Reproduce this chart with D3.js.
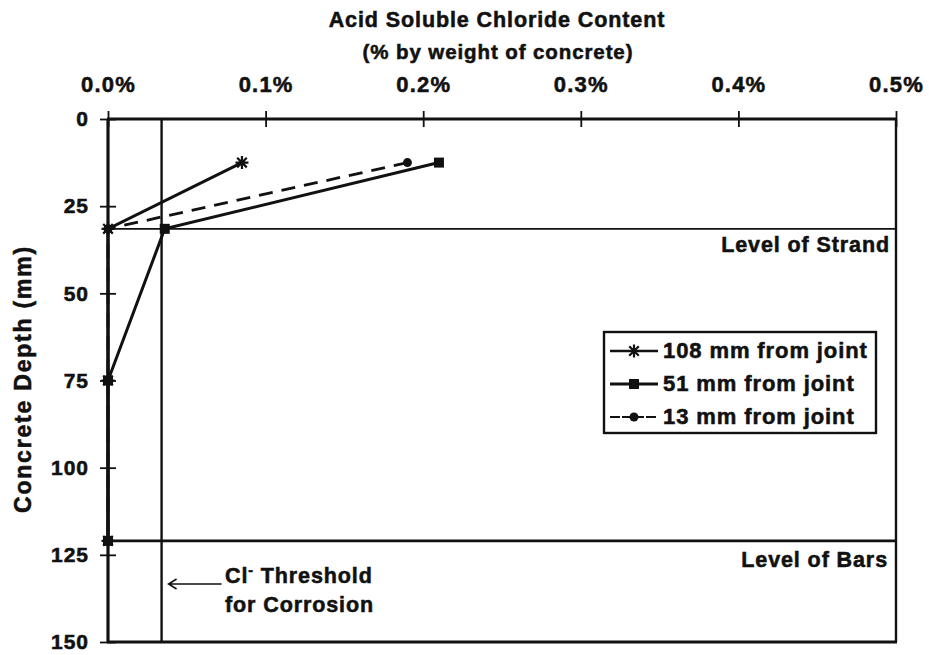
<!DOCTYPE html>
<html>
<head>
<meta charset="utf-8">
<script src="https://cdn.jsdelivr.net/npm/d3@7"></script>
<style>
  body { margin: 0; background: #fff; }
  svg text { font-family: "Liberation Sans", Arial, Helvetica, sans-serif; font-weight: bold; fill: #111; stroke: #111; stroke-width: 0.55px; letter-spacing: 0.9px; }
</style>
</head>
<body>
<svg id="chart" width="929" height="655"></svg>
<script>
// Acid-soluble chloride content vs. depth, three sampling distances from the joint
const depths = [12.5, 31.5, 75, 121];             // mm below surface
const chloride108 = [0.085, 0, 0, 0];              // % by weight, 108 mm from joint
const chloride51  = [0.21, 0.036, 0, 0];           // % by weight, 51 mm from joint
const chloride13  = [0.19, 0, 0, 0];               // % by weight, 13 mm from joint
const seriesNames = ["108 mm from joint", "51 mm from joint", "13 mm from joint"];
const xTicks = [0, 0.1, 0.2, 0.3, 0.4, 0.5];
const yTicks = [0, 25, 50, 75, 100, 125, 150];
const thresholdCl = 0.034;   // % Cl- threshold for corrosion
const strandDepth = 31.5;    // mm
const barsDepth = 121;       // mm

const svg = d3.select("#chart");
const x = d3.scaleLinear().domain([0, 0.5]).range([108, 896]);
const y = d3.scaleLinear().domain([0, 150]).range([119, 642]);

// Titles
svg.append("text").attr("x", 497).attr("y", 27).attr("text-anchor", "middle")
  .style("font-size", "21.5px").text("Acid Soluble Chloride Content");
svg.append("text").attr("x", 498).attr("y", 59).attr("text-anchor", "middle")
  .style("font-size", "20.5px").text("(% by weight of concrete)");
svg.append("text")
  .attr("transform", "translate(31,379) rotate(-90)")
  .attr("text-anchor", "middle").style("font-size", "23px").style("letter-spacing", "1.8px")
  .text("Concrete Depth (mm)");

// Top axis (percent)
const gx = svg.append("g").attr("transform", `translate(0,${y(0)})`)
  .call(d3.axisTop(x).tickValues(xTicks).tickFormat(d => d.toFixed(1) + "%").tickSize(8).tickPadding(19));
gx.select(".domain").remove();
gx.selectAll(".tick line").attr("y1", -8).attr("y2", 8).attr("stroke", "#111").attr("stroke-width", 1.8);
gx.selectAll(".tick text").style("font-size", "22px").style("letter-spacing", "1.2px")
  .style("font-family", "'Liberation Sans', Arial, sans-serif").style("font-weight", "bold");

// Left axis (depth)
const gy = svg.append("g").attr("transform", `translate(${x(0)},0)`)
  .call(d3.axisLeft(y).tickValues(yTicks).tickSize(8).tickPadding(11));
gy.select(".domain").remove();
gy.selectAll(".tick line").attr("x1", -8).attr("x2", 8).attr("stroke", "#111").attr("stroke-width", 1.8);
gy.selectAll(".tick text").style("font-size", "21px").style("letter-spacing", "1px")
  .style("font-family", "'Liberation Sans', Arial, sans-serif").style("font-weight", "bold");

// Plot frame
const frame = svg.append("g").attr("stroke", "#111").attr("fill", "none");
frame.append("line").attr("x1", x(0) - 1).attr("x2", x(0.5) + 1).attr("y1", y(0)).attr("y2", y(0)).attr("stroke-width", 3.2);
frame.append("line").attr("x1", x(0) - 1).attr("x2", x(0.5) + 1).attr("y1", y(150)).attr("y2", y(150)).attr("stroke-width", 3.2);
frame.append("line").attr("x1", x(0)).attr("x2", x(0)).attr("y1", y(0)).attr("y2", y(150)).attr("stroke-width", 3.2);
frame.append("line").attr("x1", x(0.5)).attr("x2", x(0.5)).attr("y1", y(0)).attr("y2", y(150)).attr("stroke-width", 2.4);

// Reference levels
svg.append("line").attr("x1", x(0)).attr("x2", x(0.5)).attr("y1", y(strandDepth)).attr("y2", y(strandDepth))
  .attr("stroke", "#111").attr("stroke-width", 1.8);
svg.append("line").attr("x1", x(0)).attr("x2", x(0.5)).attr("y1", y(barsDepth)).attr("y2", y(barsDepth))
  .attr("stroke", "#111").attr("stroke-width", 2.8);
svg.append("line").attr("x1", x(thresholdCl)).attr("x2", x(thresholdCl)).attr("y1", y(0)).attr("y2", y(150))
  .attr("stroke", "#111").attr("stroke-width", 2.4);

svg.append("text").attr("x", 890).attr("y", 252).attr("text-anchor", "end").style("font-size", "21.5px").text("Level of Strand");
svg.append("text").attr("x", 888).attr("y", 567).attr("text-anchor", "end").style("font-size", "21.5px").text("Level of Bars");

// Threshold annotation with arrow
const tl = svg.append("text").attr("x", 225).attr("y", 583).style("font-size", "21.5px");
tl.append("tspan").text("Cl");
tl.append("tspan").attr("dy", -8).style("font-size", "14px").text("-");
tl.append("tspan").attr("dy", 8).text(" Threshold");
svg.append("text").attr("x", 225).attr("y", 612).style("font-size", "21.5px").text("for Corrosion");
const arrowY = 584;
svg.append("path")
  .attr("d", `M${x(thresholdCl) + 60},${arrowY}H${x(thresholdCl) + 7}M${x(thresholdCl) + 15},${arrowY - 5}L${x(thresholdCl) + 7},${arrowY}L${x(thresholdCl) + 15},${arrowY + 5}`)
  .attr("stroke", "#111").attr("stroke-width", 1.6).attr("fill", "none");

// Marker drawing
function drawMarker(g, type, cx, cy) {
  if (type === "star") {
    const r = 6.5;
    g.append("path")
      .attr("d", `M${cx - r},${cy}H${cx + r}M${cx},${cy - r}V${cy + r}M${cx - 4.8},${cy - 4.8}L${cx + 4.8},${cy + 4.8}M${cx - 4.8},${cy + 4.8}L${cx + 4.8},${cy - 4.8}`)
      .attr("stroke", "#111").attr("stroke-width", 2.2);
  } else if (type === "square") {
    g.append("rect").attr("x", cx - 5).attr("y", cy - 5).attr("width", 10).attr("height", 10).attr("fill", "#111");
  } else {
    g.append("circle").attr("cx", cx).attr("cy", cy).attr("r", 4.5).attr("fill", "#111");
  }
}

const series = [
  { name: seriesNames[2], values: chloride13, marker: "circle", dash: "14,9", width: 2.8 },
  { name: seriesNames[1], values: chloride51, marker: "square", dash: null, width: 3 },
  { name: seriesNames[0], values: chloride108, marker: "star", dash: null, width: 3 }
];

const line = d3.line().x(d => x(d.v)).y(d => y(d.d));
series.forEach(s => {
  const pts = s.values.map((v, i) => ({ v, d: depths[i] }));
  const g = svg.append("g");
  g.append("path").datum(pts).attr("d", line).attr("fill", "none").attr("stroke", "#111")
    .attr("stroke-width", s.width).attr("stroke-dasharray", s.dash);
  pts.forEach(p => drawMarker(g, s.marker, x(p.v), y(p.d)));
});

// Legend
const lg = svg.append("g");
lg.append("rect").attr("x", 604).attr("y", 332).attr("width", 272).attr("height", 101)
  .attr("fill", "#fff").attr("stroke", "#111").attr("stroke-width", 2.4);
const legendItems = [
  { name: seriesNames[0], marker: "star", width: 2.6, dash: null },
  { name: seriesNames[1], marker: "square", width: 2.8, dash: null },
  { name: seriesNames[2], marker: "circle", width: 1.8, dash: "10,2" }
];
legendItems.forEach((s, i) => {
  const by = 358 + i * 33;
  lg.append("line").attr("x1", 610).attr("x2", 658).attr("y1", by - 7).attr("y2", by - 7)
    .attr("stroke", "#111").attr("stroke-width", s.width).attr("stroke-dasharray", s.dash);
  drawMarker(lg, s.marker, 634, by - 7);
  lg.append("text").attr("x", 663).attr("y", by).style("font-size", "22px").text(s.name);
});
</script>
</body>
</html>
